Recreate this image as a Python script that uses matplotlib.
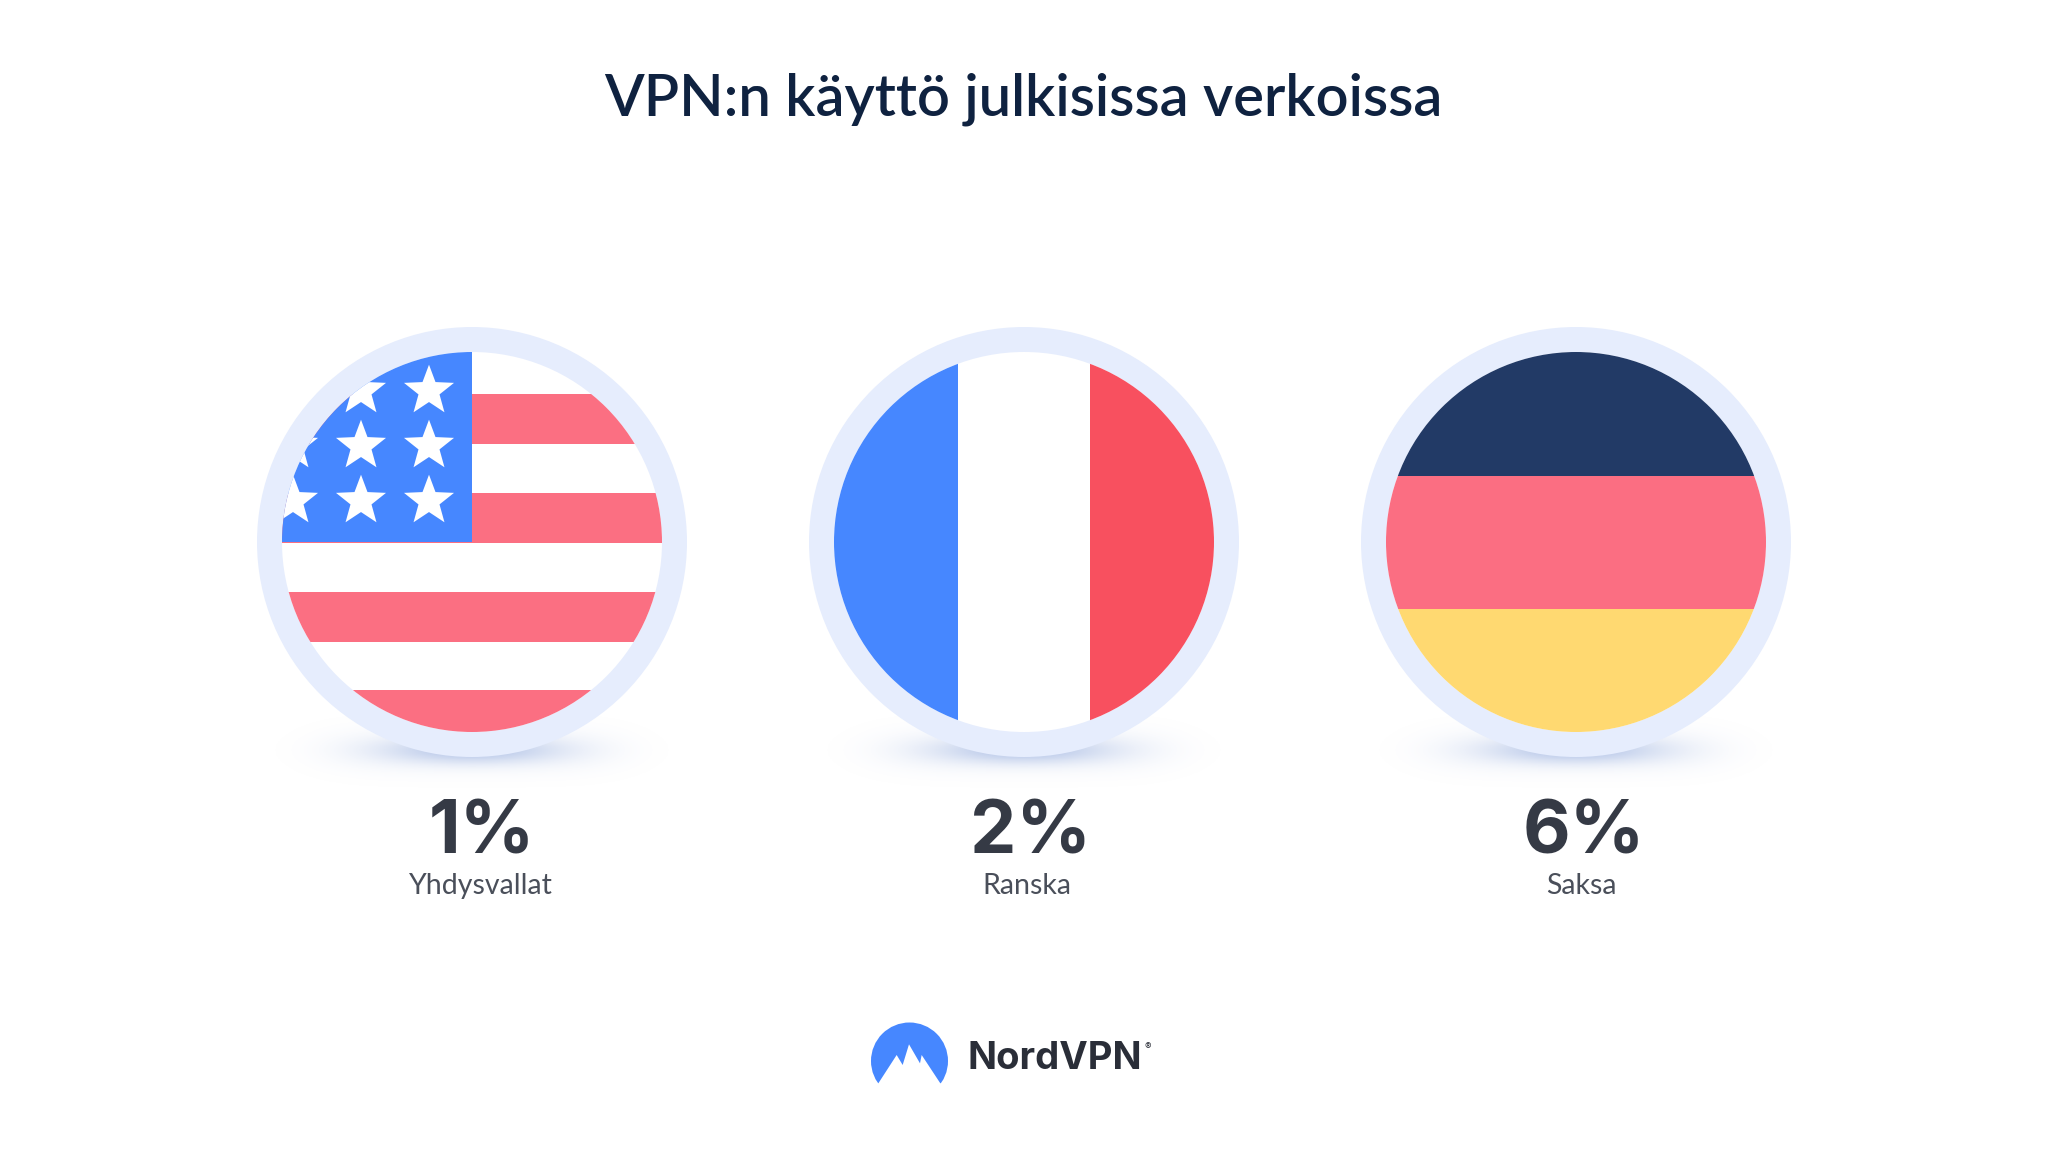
import matplotlib
matplotlib.use("Agg")
import matplotlib.pyplot as plt
import numpy as np
from matplotlib.patches import Circle, Rectangle, Polygon

##############
 # Data
##############

title = "VPN:n käyttö julkisissa verkoissa"
countries = ["Yhdysvallat", "Ranska", "Saksa"]
shares = [1, 2, 6]
brand = "NordVPN"

##############
 # Colors
##############

RING = "#e6edfd"
BLUE = "#4687ff"
US_RED = "#fb6f82"
FR_RED = "#f8505f"
NAVY = "#223a66"
DE_RED = "#fb6e82"
YELLOW = "#ffd971"
DARK = "#353a45"
TITLE = "#0f2240"

fig = plt.figure(figsize=(20.48, 11.53), dpi=100)
ax = fig.add_axes([0, 0, 1, 1])
ax.set_xlim(0, 2048)
ax.set_ylim(1153, 0)
ax.axis("off")

centers = [472, 1024, 1576]
cy = 542
r_in = 190
r_out = 215

##############
 # Shadow
##############

def shadow(cx):
    xs = np.linspace(-220, 220, 220)
    ys = np.linspace(-45, 45, 70)
    xx, yy = np.meshgrid(xs, ys)
    wide = 0.15 * np.exp(-(xx / 140) ** 4 - (yy / 20) ** 2)
    narrow = 0.5 * np.exp(-(xx / 80) ** 2 - (yy / 13) ** 2)
    rgba = np.zeros(xx.shape + (4,))
    rgba[..., :3] = matplotlib.colors.to_rgb("#8fa8dc")
    rgba[..., 3] = np.clip(wide + narrow, 0, 1)
    ax.imshow(rgba, extent=(cx - 220, cx + 220, 795, 705), aspect="auto", zorder=1)

##############
 # Flags
##############

def star(x, y, R=26.3):
    angles = np.deg2rad(np.arange(10) * 36 - 90)
    radii = np.where(np.arange(10) % 2 == 0, R, R * 0.42)
    return Polygon(np.c_[x + radii * np.cos(angles), y + radii * np.sin(angles)], color="white", lw=0)

def band(clip, x0, y0, x1, y1, color):
    p = Rectangle((x0, y0), x1 - x0, y1 - y0, facecolor=color, lw=0, zorder=3)
    ax.add_patch(p)
    p.set_clip_path(clip)
    return p

def base(cx):
    shadow(cx)
    ax.add_patch(Circle((cx, cy), r_out, color=RING, lw=0, zorder=2))
    clip = Circle((cx, cy), r_in, color="white", lw=0, zorder=2.5)
    ax.add_patch(clip)
    return clip

# USA
clip = base(centers[0])
cx = centers[0]
for y0 in [394, 493, 592, 690]:
    band(clip, cx - r_in, y0, cx + r_in, y0 + 49.5, US_RED)
band(clip, cx - r_in, cy - r_in, cx, cy, BLUE)
for sx in [429, 361, 293]:
    for sy in [391, 446, 501]:
        s = star(sx, sy)
        s.set_zorder(4)
        ax.add_patch(s)
        s.set_clip_path(clip)

# France
clip = base(centers[1])
cx = centers[1]
band(clip, cx - r_in, cy - r_in, 958, cy + r_in, BLUE)
band(clip, 1090, cy - r_in, cx + r_in, cy + r_in, FR_RED)

# Germany
clip = base(centers[2])
cx = centers[2]
band(clip, cx - r_in, cy - r_in, cx + r_in, 476, NAVY)
band(clip, cx - r_in, 476, cx + r_in, 609, DE_RED)
band(clip, cx - r_in, 609, cx + r_in, cy + r_in, YELLOW)

##############
 # Text
##############

ax.text(1023, 116, title, ha="center", va="baseline", fontsize=41.7, fontweight="semibold",
        family="Lato", color=TITLE)

num_x = [482, 1030, 1584]
lab_x = [481, 1027, 1581]
for i in range(3):
    ax.text(num_x[i], 853, f"{shares[i]}%", ha="center", va="baseline", fontsize=53,
            fontweight="bold", family="Inter", color=DARK)
    ax.text(lab_x[i], 894, countries[i], ha="center", va="baseline", fontsize=20.5,
            fontweight="normal", family="Lato", color="#4a4f5a")

##############
 # Logo
##############

ax.add_patch(Circle((909.5, 1061), 38.5, color=BLUE, lw=0, zorder=5))
zx = np.array([115, 170, 188, 207, 240, 245, 301, 335, 335, 85, 85])
zy = np.array([250, 165, 195, 133, 190, 165, 250, 250, 300, 300, 250])
ax.add_patch(Polygon(np.c_[840 + zx / 3, 1000 + zy / 3], color="white", lw=0, zorder=6))
ax.text(968, 1069, brand, ha="left", va="baseline", fontsize=27.5, fontweight="bold",
        family="Inter", color="#2a2e38")
ax.text(1148, 1050, "®", ha="center", va="baseline", fontsize=7, family="Inter", color="#2a2e38")

fig.savefig("out.png", dpi=100, facecolor="white")
